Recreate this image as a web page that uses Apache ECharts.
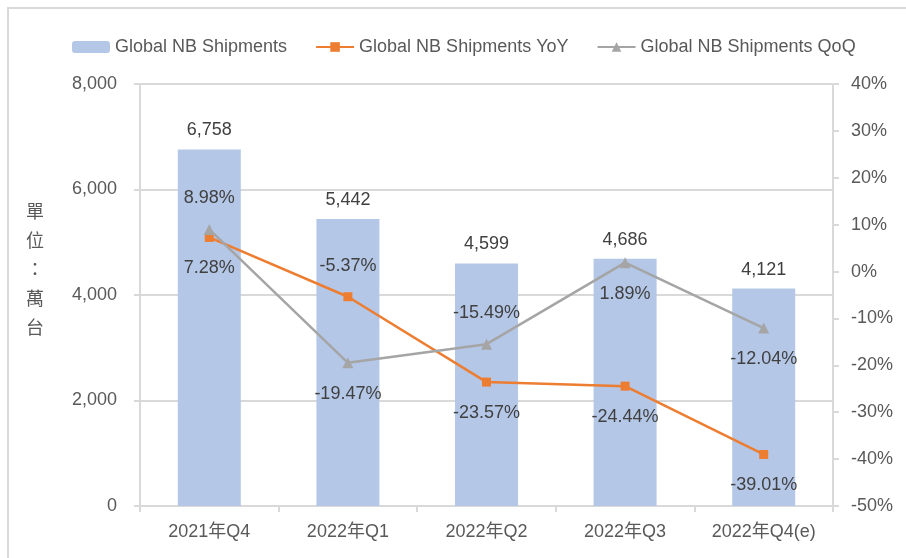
<!DOCTYPE html>
<html>
<head>
<meta charset="utf-8">
<script src="https://cdn.jsdelivr.net/npm/echarts@6/dist/echarts.min.js"></script>
<style>
  html, body { margin: 0; padding: 0; background: #fff; overflow: hidden; }
  #wrap { position: relative; width: 906px; height: 558px; overflow: hidden; }
  #frame { position: absolute; left: 7px; top: 7px; width: 1000px; height: 1000px; border-top: 2px solid #d9d9d9; border-left: 2px solid #d9d9d9; box-sizing: border-box; }
  #chart { position: absolute; left: 0; top: 0; width: 906px; height: 558px; }
</style>
</head>
<body>
<div id="wrap">
  <div id="frame"></div>
  <div id="chart"></div>
</div>
<script>
const categories = ['2021年Q4', '2022年Q1', '2022年Q2', '2022年Q3', '2022年Q4(e)'];
const shipments = [6758, 5442, 4599, 4686, 4121];
const yoy = [7.28, -5.37, -23.57, -24.44, -39.01];
const qoq = [8.98, -19.47, -15.49, 1.89, -12.04];
const leftTicks = { min: 0, max: 8000, interval: 2000 };
const rightTicks = { min: -50, max: 40, interval: 10 };

// label placement per point (style only, not data)
const yoyLabelPos = ['bottom', 'top', 'bottom', 'bottom', 'bottom'];
const qoqLabelPos = ['top', 'bottom', 'top', 'bottom', 'bottom'];

const FONT = 'Liberation Sans, Arial, Noto Sans CJK TC, sans-serif';
const axisGray = '#d9d9d9';
const textGray = '#595959';
const labelDark = '#404040';

const chart = echarts.init(document.getElementById('chart'));

const lineData = (vals, pos) => vals.map((v, i) => ({
  value: v,
  label: { position: pos[i] }
}));

const option = {
  animation: false,
  textStyle: { fontFamily: FONT },
  legend: {
    left: 67,
    top: 33,
    itemWidth: 38,
    itemHeight: 12,
    itemGap: 28,
    textStyle: { fontFamily: FONT, fontSize: 18, color: textGray },
    data: [
      { name: 'Global NB Shipments' },
      { name: 'Global NB Shipments YoY' },
      { name: 'Global NB Shipments QoQ' }
    ]
  },
  grid: { left: 140, right: 73, top: 84, bottom: 52 },
  graphic: [{
    type: 'text',
    left: 26,
    top: 197,
    style: {
      text: '單\n位\n：\n萬\n台',
      font: '18px Noto Sans CJK TC',
      fill: textGray,
      lineHeight: 29,
      align: 'center'
    }
  }],
  xAxis: {
    type: 'category',
    data: categories,
    boundaryGap: true,
    axisLine: { lineStyle: { color: axisGray, width: 2 } },
    axisTick: { show: true, length: 6, lineStyle: { color: axisGray, width: 2 } },
    axisLabel: { fontFamily: FONT, fontSize: 18, color: textGray, margin: 17 }
  },
  yAxis: [{
    type: 'value',
    min: leftTicks.min,
    max: leftTicks.max,
    interval: leftTicks.interval,
    axisLine: { show: true, lineStyle: { color: axisGray, width: 2 } },
    axisTick: { show: true, length: 6, lineStyle: { color: axisGray, width: 2 } },
    axisLabel: {
      fontFamily: FONT, fontSize: 18, color: textGray, margin: 23,
      formatter: v => v.toLocaleString('en-US')
    },
    splitLine: { show: true, lineStyle: { color: axisGray, width: 2 } }
  }, {
    type: 'value',
    min: rightTicks.min,
    max: rightTicks.max,
    interval: rightTicks.interval,
    position: 'right',
    axisLine: { show: true, lineStyle: { color: axisGray, width: 2 } },
    axisTick: { show: true, length: 6, lineStyle: { color: axisGray, width: 2 } },
    axisLabel: { fontFamily: FONT, fontSize: 18, color: textGray, margin: 18, formatter: '{value}%' },
    splitLine: { show: false }
  }],
  series: [{
    name: 'Global NB Shipments',
    type: 'bar',
    data: shipments,
    barWidth: 63,
    itemStyle: { color: '#b4c7e7' },
    label: {
      show: true,
      position: 'top',
      distance: 10,
      fontFamily: FONT,
      fontSize: 18,
      color: labelDark,
      formatter: p => p.value.toLocaleString('en-US')
    }
  }, {
    name: 'Global NB Shipments YoY',
    type: 'line',
    yAxisIndex: 1,
    data: lineData(yoy, yoyLabelPos),
    symbol: 'rect',
    symbolSize: 9,
    itemStyle: { color: '#ed7d31' },
    lineStyle: { color: '#ed7d31', width: 2.5 },
    label: {
      show: true,
      distance: 17,
      fontFamily: FONT,
      fontSize: 18,
      color: labelDark,
      formatter: p => p.value.toFixed(2) + '%'
    },
    z: 3
  }, {
    name: 'Global NB Shipments QoQ',
    type: 'line',
    yAxisIndex: 1,
    data: lineData(qoq, qoqLabelPos),
    symbol: 'triangle',
    symbolSize: 11,
    itemStyle: { color: '#a5a5a5' },
    lineStyle: { color: '#a5a5a5', width: 2.5 },
    label: {
      show: true,
      distance: 17,
      fontFamily: FONT,
      fontSize: 18,
      color: labelDark,
      formatter: p => p.value.toFixed(2) + '%'
    },
    z: 4
  }]
};

chart.setOption(option);
</script>
</body>
</html>
